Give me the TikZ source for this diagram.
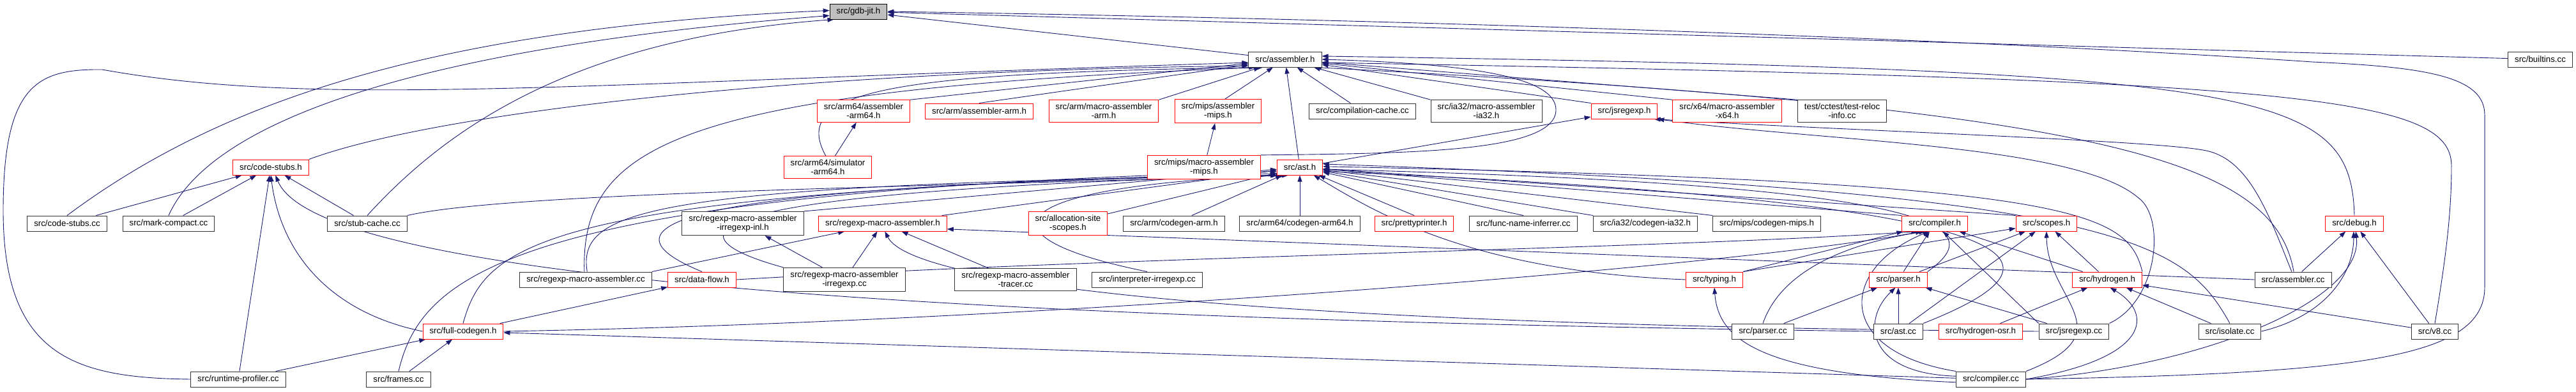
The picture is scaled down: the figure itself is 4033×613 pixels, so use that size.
\documentclass[tikz,border=0pt]{standalone}
\usepackage{fontspec}
\setmainfont{Liberation Sans}
\usepackage{tikz}
\usetikzlibrary{arrows.meta,backgrounds}
\definecolor{edgeblue}{HTML}{191970}

\begin{document}
\begin{tikzpicture}[x=1pt,y=-1pt,
  file/.style={draw=black!80, fill=white, line width=1pt, inner xsep=10.5pt, inner ysep=5.5pt, minimum height=24pt, align=center, font=\fontsize{13.3}{13.8}\selectfont},
  part/.style={file, draw=red},
  curfile/.style={file, draw=black, fill=black!25},
  inc/.style={draw=edgeblue, line width=0.9pt, -{Triangle[length=10pt,width=7pt]}}]
\useasboundingbox (0,0) rectangle (4033,613);

% Files
\node[curfile] (gdb) at (1344,18) {src/gdb-jit.h};
\node[file] (asm) at (2012,93) {src/assembler.h}; \node[file] (builtins) at (3977,93) {src/builtins.cc};
% third row
\node[part] (arm64asm) at (1352,174) {src/arm64/assembler\\-arm64.h}; \node[part] (armasm) at (1533,174) {src/arm/assembler-arm.h};
\node[part] (armmasm) at (1728,174) {src/arm/macro-assembler\\-arm.h}; \node[part] (mipsasm) at (1907,174) {src/mips/assembler\\-mips.h};
\node[file] (ccache) at (2133,174) {src/compilation-cache.cc}; \node[file] (ia32masm) at (2327,174) {src/ia32/macro-assembler\\-ia32.h};
\node[part] (jsregexph) at (2543,174) {src/jsregexp.h}; \node[part] (x64masm) at (2704,174) {src/x64/macro-assembler\\-x64.h};
\node[file] (relocinfo) at (2884,174) {test/cctest/test-reloc\\-info.cc};
% fourth row
\node[part] (codestubsh) at (424,262) {src/code-stubs.h}; \node[part] (arm64sim) at (1296,262) {src/arm64/simulator\\-arm64.h};
\node[part] (mipsmasm) at (1885,262) {src/mips/macro-assembler\\-mips.h}; \node[part] (asth) at (2035,262) {src/ast.h};
% fifth row
\node[file] (codestubscc) at (105,350) {src/code-stubs.cc}; \node[file] (markcompact) at (264,350) {src/mark-compact.cc};
\node[file] (stubcache) at (575,350) {src/stub-cache.cc}; \node[file] (rmairrinl) at (1163,350) {src/regexp-macro-assembler\\-irregexp-inl.h};
\node[part] (rmah) at (1382,350) {src/regexp-macro-assembler.h}; \node[part] (allocscopes) at (1672,350) {src/allocation-site\\-scopes.h};
\node[file] (armcg) at (1838,350) {src/arm/codegen-arm.h}; \node[file] (arm64cg) at (2035,350) {src/arm64/codegen-arm64.h};
\node[part] (pretty) at (2214,350) {src/prettyprinter.h}; \node[file] (funcname) at (2385,350) {src/func-name-inferrer.cc};
\node[file] (ia32cg) at (2576,350) {src/ia32/codegen-ia32.h}; \node[file] (mipscg) at (2766,350) {src/mips/codegen-mips.h};
\node[part] (compilerh) at (3029,350) {src/compiler.h}; \node[part] (scopesh) at (3204,350) {src/scopes.h};
\node[part] (debugh) at (3686,350) {src/debug.h};
% sixth row
\node[file] (rmacc) at (917,438) {src/regexp-macro-assembler.cc}; \node[part] (dataflow) at (1099,438) {src/data-flow.h};
\node[file] (rmairr) at (1322,438) {src/regexp-macro-assembler\\-irregexp.cc}; \node[file] (rmatracer) at (1590,438) {src/regexp-macro-assembler\\-tracer.cc};
\node[file] (interp) at (1796,438) {src/interpreter-irregexp.cc}; \node[part] (typing) at (2684,438) {src/typing.h};
\node[part] (parserh) at (2972,438) {src/parser.h}; \node[part] (hydrogenh) at (3299,438) {src/hydrogen.h};
\node[file] (asmcc) at (3590,438) {src/assembler.cc};
% seventh row
\node[part] (fullcg) at (725,519) {src/full-codegen.h}; \node[file] (parsercc) at (2760,519) {src/parser.cc};
\node[file] (astcc) at (2972,519) {src/ast.cc}; \node[part] (hosr) at (3101,519) {src/hydrogen-osr.h};
\node[file] (jsregexpcc) at (3247,519) {src/jsregexp.cc}; \node[file] (isolate) at (3491,519) {src/isolate.cc};
\node[file] (v8cc) at (3812,519) {src/v8.cc};
% last row
\node[file] (rtprof) at (373,594) {src/runtime-profiler.cc}; \node[file] (frames) at (624,594) {src/frames.cc};
\node[file] (compilercc) at (3117,594) {src/compiler.cc};

% bends of the long loops
\coordinate (lloop) at (5,330); \coordinate (ltop) at (160,109);
\coordinate (rlow) at (3890,450); \coordinate (rhigh) at (3890,180); \coordinate (rtop) at (3620,97);
\coordinate (mloop) at (2436,172); \coordinate (vup) at (3838,260);
\coordinate (jup) at (3454,236); \coordinate (jloop) at (3348,310);

\begin{pgfonlayer}{background}
% gdb-jit.h
\draw[inc] (asm) -- (gdb); \draw[inc] (builtins) -- (gdb);
\draw[inc] (codestubscc.north) .. controls (330,170) and (650,45) .. (gdb.178);
\draw[inc] (markcompact.north) .. controls (330,190) and (650,75) .. (gdb.188);
\draw[inc] (stubcache.north) .. controls (700,200) and (900,60) .. (gdb.198);
\draw[inc] (compilercc.east) .. controls (3700,585) and (3890,560) .. (rlow) -- (rhigh) .. controls (3890,120) and (3800,105) .. (rtop) .. controls (3300,75) and (2500,35) .. (gdb.east);

% assembler.h
\draw[inc] (codestubsh.north east) .. controls (700,170) and (1300,110) .. (asm.190);
\draw[inc] (rtprof.west) .. controls (120,592) and (5,560) .. (lloop) .. controls (5,130) and (60,108) .. (ltop) .. controls (500,170) and (900,130) .. (asm.185);
\draw[inc] (arm64sim.100) .. controls (1235,140) and (1400,115) .. (asm.195);
\draw[inc] (rmacc.100) .. controls (910,230) and (1050,140) .. (asm.200);
\draw[inc] (arm64asm.north east) -- (asm); \draw[inc] (armasm.north) -- (asm); \draw[inc] (armmasm.north east) -- (asm);
\draw[inc] (mipsasm.60) -- (asm); \draw[inc] (asth) -- (asm); \draw[inc] (ccache) -- (asm);
\draw[inc] (ia32masm.north west) -- (asm); \draw[inc] (jsregexph.north west) -- (asm); \draw[inc] (x64masm.north west) -- (asm);
\draw[inc] (relocinfo.north west) -- (asm);
\draw[inc] (mipsmasm.north east) .. controls (2200,240) and (2436,240) .. (mloop) .. controls (2436,120) and (2300,100) .. (asm.east);
\draw[inc] (debugh.north) .. controls (3680,140) and (3550,110) .. (asm.5);
\draw[inc] (v8cc.north) .. controls (3830,400) and (3838,330) .. (vup) .. controls (3838,150) and (3600,125) .. (asm.355);
\draw[inc] (asmcc.85) .. controls (3560,250) and (3300,170) .. (asm.345);
\draw[inc] (arm64sim) -- (arm64asm); \draw[inc] (mipsmasm) -- (mipsasm);

% jsregexp.h
\draw[inc] (asth) -- (jsregexph);
\draw[inc] (asmcc.100) .. controls (3550,330) and (3520,250) .. (jup) .. controls (3380,220) and (2900,205) .. (jsregexph.-15);
\draw[inc] (jsregexpcc.north east) .. controls (3380,470) and (3390,340) .. (jloop) .. controls (3250,225) and (2850,222) .. (jsregexph.south east);

% code-stubs.h
\draw[inc] (codestubscc) -- (codestubsh); \draw[inc] (markcompact) -- (codestubsh);
\draw[inc] (stubcache) -- (codestubsh); \draw[inc] (rtprof) -- (codestubsh);
\draw[inc] (fullcg.west) .. controls (520,490) and (440,400) .. (codestubsh.south);
\draw[inc] (astcc.west) .. controls (1500,500) and (500,440) .. (codestubsh.-60);

% ast.h
\draw[inc] (stubcache.north east) .. controls (800,300) and (1500,292) .. (asth.199);
\draw[inc] (rmairrinl.north east) -- (asth); \draw[inc] (rmah) -- (asth);
\draw[inc] (allocscopes) -- (asth); \draw[inc] (armcg) -- (asth); \draw[inc] (arm64cg) -- (asth);
\draw[inc] (pretty.north) -- (asth); \draw[inc] (funcname.north) -- (asth); \draw[inc] (ia32cg.north west) -- (asth);
\draw[inc] (mipscg.north west) -- (asth); \draw[inc] (compilerh.north west) -- (asth); \draw[inc] (scopesh.north west) -- (asth);
\draw[inc] (frames.north) .. controls (660,430) and (800,300) .. (asth.190);
\draw[inc] (fullcg.north) .. controls (760,380) and (850,300) .. (asth.195);
\draw[inc] (rmacc.80) .. controls (905,330) and (1000,290) .. (asth.200);
\draw[inc] (dataflow.north) .. controls (940,360) and (1000,290) .. (asth.205);
\draw[inc] (rmairr.north west) .. controls (1050,370) and (1030,300) .. (asth.210);
\draw[inc] (interp.north) .. controls (1520,370) and (1560,290) .. (asth.215);
\draw[inc] (typing.west) .. controls (2300,425) and (2150,330) .. (asth.-30);
\draw[inc] (parserh.north east) .. controls (3110,360) and (3080,290) .. (asth.-5);
\draw[inc] (hydrogenh.north east) .. controls (3330,330) and (3250,285) .. (asth.2);
\draw[inc] (isolate.north) .. controls (3420,380) and (3330,300) .. (asth.8);
\draw[inc] (astcc.north east) .. controls (3230,420) and (3290,320) .. (asth.-10);

% regexp-macro-assembler.h
\draw[inc] (rmacc.north east) -- (rmah); \draw[inc] (rmairr) -- (rmah); \draw[inc] (rmatracer) -- (rmah);
\draw[inc] (jsregexpcc.west) .. controls (2000,510) and (1430,450) .. (rmah.-75);
\draw[inc] (asmcc.west) -- (rmah.-5);
\draw[inc] (rmairr) -- (rmairrinl);

% data-flow.h and full-codegen.h
\draw[inc] (fullcg) -- (dataflow);
\draw[inc] (rtprof) -- (fullcg); \draw[inc] (frames) -- (fullcg); \draw[inc] (compilercc) -- (fullcg);

% compiler.h
\draw[inc] (dataflow.east) .. controls (1800,400) and (2600,390) .. (compilerh.205);
\draw[inc] (fullcg.east) .. controls (1600,505) and (2700,420) .. (compilerh.212);
\draw[inc] (typing.north east) -- (compilerh); \draw[inc] (parserh) -- (compilerh);
\draw[inc] (hydrogenh) -- (compilerh); \draw[inc] (jsregexpcc.north west) -- (compilerh);
\draw[inc] (parsercc.north) .. controls (2790,420) and (2900,380) .. (compilerh.220);
\draw[inc] (compilercc.north west) .. controls (2870,550) and (2880,420) .. (compilerh.235);

% scopes.h
\draw[inc] (typing.north east) -- (scopesh); \draw[inc] (parserh) -- (scopesh);
\draw[inc] (hydrogenh) -- (scopesh); \draw[inc] (astcc) -- (scopesh);
\draw[inc] (compilercc.north east) .. controls (3330,520) and (3205,470) .. (scopesh.south);

% parser.h, hydrogen.h, typing.h
\draw[inc] (parsercc) -- (parserh); \draw[inc] (astcc) -- (parserh); \draw[inc] (jsregexpcc) -- (parserh);
\draw[inc] (compilercc.175) .. controls (2920,585) and (2915,500) .. (parserh.250);
\draw[inc] (hosr) -- (hydrogenh); \draw[inc] (isolate) -- (hydrogenh); \draw[inc] (v8cc) -- (hydrogenh);
\draw[inc] (compilercc.east) .. controls (3370,560) and (3370,490) .. (hydrogenh.-70);
\draw[inc] (compilercc.185) .. controls (2750,585) and (2690,530) .. (typing.south);

% debug.h
\draw[inc] (asmcc) -- (debugh); \draw[inc] (v8cc) -- (debugh);
\draw[inc] (isolate.east) .. controls (3640,495) and (3685,430) .. (debugh.265);
\draw[inc] (compilercc.east) .. controls (3450,575) and (3700,470) .. (debugh.280);
\end{pgfonlayer}
\end{tikzpicture}
\end{document}
